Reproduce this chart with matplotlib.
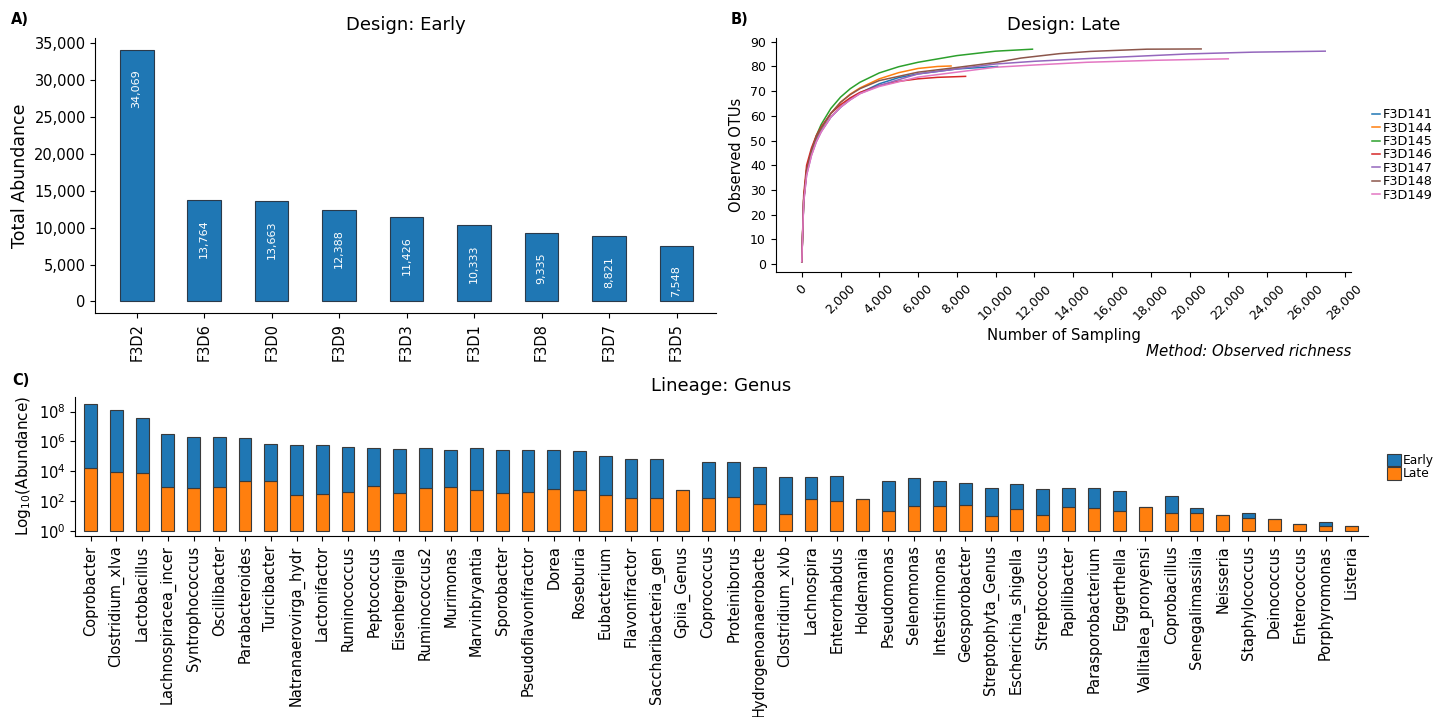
import matplotlib
matplotlib.use("Agg")
import matplotlib.pyplot as plt
from matplotlib.ticker import FuncFormatter, MultipleLocator, NullLocator, FixedLocator

# ---------------- Panel A data ----------------
early_samples = ["F3D2", "F3D6", "F3D0", "F3D9", "F3D3", "F3D1", "F3D8", "F3D7", "F3D5"]
early_totals = [34069, 13764, 13663, 12388, 11426, 10333, 9335, 8821, 7548]

# ---------------- Panel B data (rarefaction curves) ----------------
late_samples = ["F3D141", "F3D144", "F3D145", "F3D146", "F3D147", "F3D148", "F3D149"]
x_141 = [1, 100, 250, 500, 750, 1000, 1500, 2000, 2500, 3000, 4000, 5000, 6000, 8000, 10100]
y_141 = [1, 26, 37, 45, 50.5, 54, 59.5, 63.5, 66.8, 69.3, 73, 75.5, 77, 79, 80]
x_144 = [1, 100, 250, 500, 750, 1000, 1500, 2000, 2500, 3000, 4000, 5000, 6000, 7000, 7700]
y_144 = [1, 26, 38, 46, 51.5, 55, 61, 65.5, 68.8, 71.3, 75, 77.5, 79.2, 80, 80.2]
x_145 = [1, 100, 250, 500, 750, 1000, 1500, 2000, 2500, 3000, 4000, 5000, 6000, 8000, 10000, 11900]
y_145 = [1, 26, 38, 46, 52, 56.5, 63, 67.6, 71, 73.6, 77.4, 79.9, 81.7, 84.4, 86.2, 87]
x_146 = [1, 100, 250, 500, 750, 1000, 1500, 2000, 2500, 3000, 4000, 5000, 6000, 7000, 8450]
y_146 = [1, 28, 40, 47, 52, 55.5, 61, 64.5, 67.3, 69.5, 72.3, 74, 75, 75.6, 76]
x_147 = [1, 100, 250, 500, 750, 1000, 1500, 2000, 2500, 3000, 4000, 6000, 8000, 10000, 12000, 15000, 20000, 23300, 27000]
y_147 = [1, 25, 36, 44, 49.5, 53.5, 59.5, 63.5, 66.5, 69, 72.3, 77, 79, 81, 82.1, 83.3, 85.1, 85.8, 86.2]
x_148 = [1, 100, 250, 500, 750, 1000, 1500, 2000, 2500, 3000, 4000, 6000, 8000, 10000, 11300, 13300, 14900, 17800, 20600]
y_148 = [1, 26, 38, 46, 51.5, 55, 61, 65.5, 68.6, 71, 74.3, 77.7, 79.6, 81.6, 83.4, 85.2, 86.1, 87, 87.1]
x_149 = [1, 100, 250, 500, 750, 1000, 1500, 2000, 2500, 3000, 4000, 6000, 8000, 10000, 12000, 14700, 18200, 22000]
y_149 = [1, 25, 36, 44, 49.5, 53.5, 59.5, 63.5, 66.5, 69, 71.9, 75.7, 77.7, 79.7, 80.6, 81.7, 82.5, 83.1]

# ---------------- Panel C data ----------------
genera = ["Coprobacter", "Clostridium_xlva", "Lactobacillus", "Lachnospiracea_incer",
          "Syntrophococcus", "Oscillibacter", "Parabacteroides", "Turicibacter",
          "Natranaerovirga_hydr", "Lactonifactor", "Ruminococcus", "Peptococcus",
          "Eisenbergiella", "Ruminococcus2", "Murimonas", "Marvinbryantia", "Sporobacter",
          "Pseudoflavonifractor", "Dorea", "Roseburia", "Eubacterium", "Flavonifractor",
          "Saccharibacteria_gen", "Gpiia_Genus", "Coprococcus", "Proteiniborus",
          "Hydrogenoanaerobacte", "Clostridium_xlvb", "Lachnospira", "Enterorhabdus",
          "Holdemania", "Pseudomonas", "Selenomonas", "Intestinimonas", "Geosporobacter",
          "Streptophyta_Genus", "Escherichia_shigella", "Streptococcus", "Papillibacter",
          "Parasporobacterium", "Eggerthella", "Vallitalea_pronyensi", "Coprobacillus",
          "Senegalimassilia", "Neisseria", "Staphylococcus", "Deinococcus", "Enterococcus",
          "Porphyromonas", "Listeria"]
early_abund = [3.3e8, 1.3e8, 3.8e7, 3.0e6, 1.9e6, 2.1e6, 1.6e6, 6.4e5, 5.8e5, 5.8e5,
               4.0e5, 3.3e5, 3.3e5, 3.5e5, 2.8e5, 3.3e5, 2.7e5, 2.5e5, 2.5e5, 2.2e5,
               1.1e5, 7.0e4, 6.3e4, 0, 4.4e4, 4.2e4, 1.8e4, 3.9e3, 3.6e3, 4.7e3,
               0, 2.2e3, 3.3e3, 2.0e3, 1.65e3, 690, 1.3e3, 590, 660, 750,
               450, 0, 190, 17, 0, 8.5, 0, 0, 2, 0]
late_abund = [1.7e4, 9300, 8000, 910, 700, 910, 2300, 2300, 250, 290,
              400, 1070, 360, 740, 870, 520, 340, 380, 600, 520,
              265, 150, 150, 570, 150, 175, 62, 13, 142, 100,
              135, 22, 48, 48, 53, 10, 27, 11, 41, 32,
              22, 41, 16, 16, 12, 7.5, 5.8, 3, 2, 2]
group_labels = ["Early", "Late"]

BLUE = "#1f77b4"
ORANGE = "#ff7f0e"
line_colors = ["#1f77b4", "#ff7f0e", "#2ca02c", "#d62728", "#9467bd", "#8c564b", "#e377c2"]

W, H = 1447, 717
fig = plt.figure(figsize=(W / 100, H / 100), dpi=100)
plt.rcParams['font.family'] = ['DejaVu Sans']


def rect(l, t, r, b):
    return [l / W, 1 - b / H, (r - l) / W, (b - t) / H]


comma = FuncFormatter(lambda v, p: f"{v:,.0f}")

# ---------------- Panel A ----------------
axA = fig.add_axes(rect(95.5, 38, 716, 313.3))
xa = list(range(len(early_samples)))
axA.bar(xa, early_totals, width=0.5, color=BLUE, edgecolor="#2b3a4a", linewidth=0.8)
for i, v in zip(xa, early_totals):
    axA.annotate(f"{v:,}", (i, v), xytext=(0, -14), textcoords="offset points",
                 rotation=90, ha="center", va="top", color="white", fontsize=8)
axA.set_xlim(-0.61, 8.585)
axA.set_ylim(-1600, 35700)
axA.set_xticks(xa)
axA.set_xticklabels(early_samples, rotation=90, fontsize=10.5)
axA.yaxis.set_major_locator(MultipleLocator(5000))
axA.yaxis.set_major_formatter(comma)
axA.tick_params(axis="y", labelsize=10.5)
axA.set_ylabel("Total Abundance", fontsize=12.5)
axA.set_title("Design: Early", fontsize=13)
for s in ("top", "right"):
    axA.spines[s].set_visible(False)

# ---------------- Panel B ----------------
axB = fig.add_axes(rect(775.6, 38.3, 1351.4, 272.3))
curves = [(x_141, y_141), (x_144, y_144), (x_145, y_145), (x_146, y_146),
          (x_147, y_147), (x_148, y_148), (x_149, y_149)]
handles = []
for (xs, ys), name, c in zip(curves, late_samples, line_colors):
    h, = axB.plot(xs, ys, color=c, lw=1.1, label=name)
    handles.append(h)
axB.xaxis.set_major_locator(MultipleLocator(2000))
axB.xaxis.set_major_formatter(comma)
axB.yaxis.set_major_locator(MultipleLocator(10))
axB.tick_params(axis="x", labelsize=9, labelrotation=45)
axB.tick_params(axis="y", labelsize=9)
axB.set_xlabel("Number of Sampling", fontsize=10.7)
axB.set_ylabel("Observed OTUs", fontsize=10.5)
axB.set_title("Design: Late", fontsize=13)
for s in ("top", "right"):
    axB.spines[s].set_visible(False)
fig.legend(handles=handles, loc="center left", bbox_to_anchor=(1372 / W, 1 - 155 / H),
           frameon=False, fontsize=9.3, handlelength=0.65, handletextpad=0.15,
           labelspacing=0.03, borderpad=0, borderaxespad=0)
fig.text(1351 / W, 1 - 351.7 / H, "Method: Observed richness", ha="right", va="center",
         fontsize=10.8, style="italic")

# ---------------- Panel C ----------------
axC = fig.add_axes(rect(75, 397, 1368, 535.7))
xc = list(range(len(genera)))
late_h = [v - 1 for v in late_abund]
b_late = axC.bar(xc, late_h, bottom=1, width=0.5, color=ORANGE, edgecolor="#3a3a3a",
                 linewidth=0.8, label=group_labels[1])
b_early = axC.bar(xc, early_abund, bottom=late_abund, width=0.5, color=BLUE,
                  edgecolor="#3a3a3a", linewidth=0.8, label=group_labels[0])
axC.set_yscale("log")
axC.set_ylim(0.46, 9.5e8)
axC.set_xlim(-0.61, 49.65)
axC.yaxis.set_major_locator(FixedLocator([1, 1e2, 1e4, 1e6, 1e8]))
axC.yaxis.set_minor_locator(NullLocator())
axC.set_xticks(xc)
axC.set_xticklabels(genera, rotation=90, fontsize=10.5)
axC.tick_params(axis="y", labelsize=10.5)
axC.set_ylabel(r"Log$_{10}$(Abundance)", fontsize=11)
axC.set_title("Lineage: Genus", fontsize=13, pad=4)
for s in ("top", "right"):
    axC.spines[s].set_visible(False)
fig.legend(handles=[b_early, b_late], labels=group_labels, loc="center left",
           bbox_to_anchor=(1387 / W, 1 - 467 / H), frameon=False, fontsize=8.8,
           handlelength=1.15, handleheight=1.2, handletextpad=0.1, labelspacing=0.0,
           borderpad=0, borderaxespad=0)

# panel letters
for txt, x, y in (("A)", 11, 20), ("B)", 731, 20), ("C)", 12, 380)):
    fig.text(x / W, 1 - y / H, txt, fontsize=10.5, fontweight="bold", va="center", ha="left")

fig.savefig("out.png", dpi=100)
